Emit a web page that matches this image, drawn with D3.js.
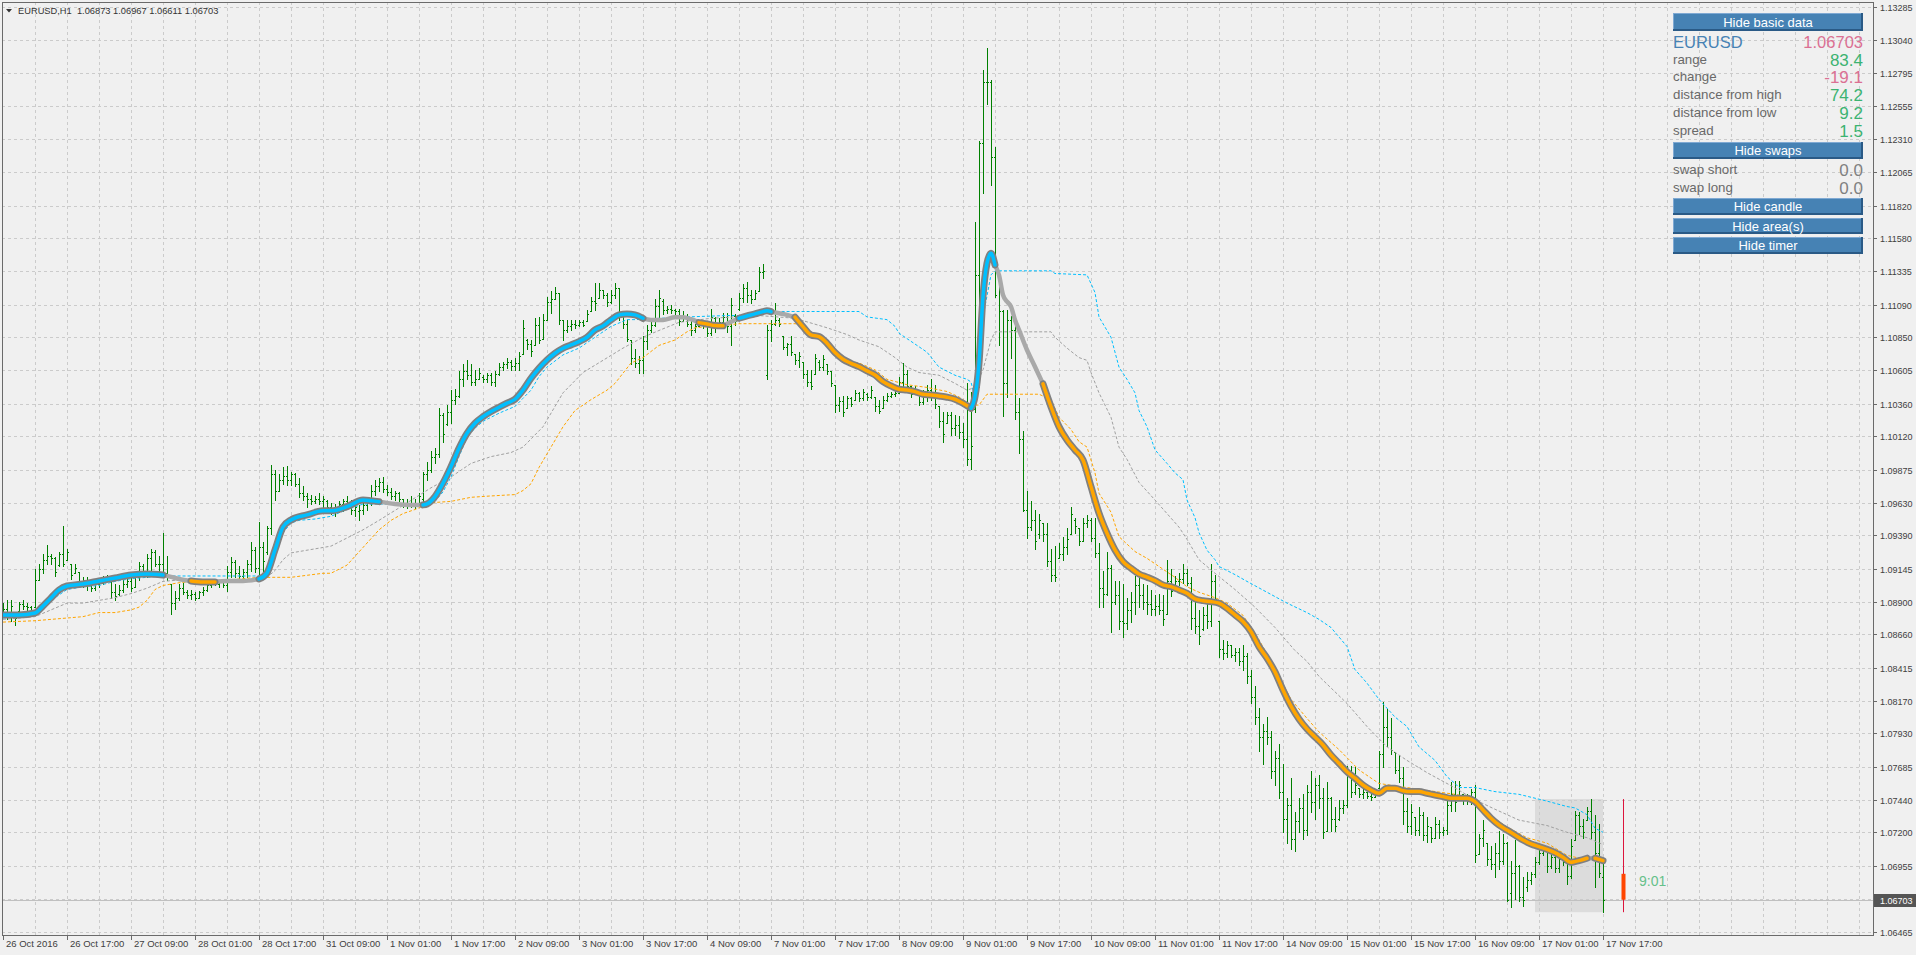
<!DOCTYPE html>
<html><head><meta charset="utf-8">
<script src="https://cdn.jsdelivr.net/npm/d3@7"></script>
<style>html,body{margin:0;padding:0;background:#f0f0f0;overflow:hidden}text{font-family:"Liberation Sans",Arial,sans-serif}</style>
</head><body><svg id="c" width="1916" height="955"></svg>
<script>
// ---------- DATA ----------
const symbolTitle = "EURUSD,H1  1.06873 1.06967 1.06611 1.06703";
const opens = [
1.0881,1.0885,1.0882,1.0880,1.0883,1.0888,1.0887,1.0886,1.0886,1.0906,
1.0914,1.0921,1.0924,1.0922,1.0917,1.0925,1.0921,1.0918,1.0911,1.0912,
1.0905,1.0903,1.0906,1.0900,1.0903,1.0904,1.0907,1.0906,1.0897,1.0896,
1.0899,1.0903,1.0905,1.0901,1.0908,1.0916,1.0913,1.0922,1.0927,1.0918,
1.0918,1.0911,1.0903,1.0889,1.0893,1.0900,1.0897,1.0895,1.0896,1.0893,
1.0897,1.0899,1.0902,1.0904,1.0903,1.0905,1.0902,1.0912,1.0919,1.0911,
1.0909,1.0912,1.0918,1.0928,1.0915,1.0930,1.0927,1.0944,1.0984,1.0972,
1.0980,1.0983,1.0980,1.0984,1.0977,1.0970,1.0968,1.0966,1.0964,1.0966,
1.0964,1.0964,1.0960,1.0958,1.0960,1.0962,1.0964,1.0961,1.0958,1.0957,
1.0958,1.0961,1.0963,1.0972,1.0975,1.0978,1.0973,1.0971,1.0968,1.0970,
1.0966,1.0962,1.0963,1.0961,1.0963,1.0966,1.0984,1.0987,1.0997,1.0999,
1.1028,1.1021,1.1030,1.1039,1.1042,1.1054,1.1060,1.1057,1.1052,1.1054,
1.1056,1.1054,1.1057,1.1052,1.1058,1.1063,1.1065,1.1067,1.1064,1.1066,
1.1073,1.1083,1.1080,1.1079,1.1094,1.1084,1.1098,1.1111,1.1113,1.1118,
1.1098,1.1090,1.1093,1.1095,1.1094,1.1096,1.1097,1.1104,1.1112,1.1114,
1.1120,1.1116,1.1111,1.1116,1.1121,1.1102,1.1095,1.1083,1.1070,1.1066,
1.1068,1.1082,1.1090,1.1094,1.1108,1.1112,1.1105,1.1106,1.1105,1.1104,
1.1097,1.1101,1.1095,1.1090,1.1093,1.1095,1.1094,1.1088,1.1099,1.1094,
1.1096,1.1100,1.1093,1.1101,1.1106,1.1114,1.1121,1.1116,1.1113,1.1119,
1.1133,1.1057,1.1090,1.1095,1.1098,1.1086,1.1078,1.1080,1.1073,1.1068,
1.1067,1.1058,1.1052,1.1058,1.1067,1.1063,1.1065,1.1060,1.1050,1.1035,
1.1038,1.1033,1.1040,1.1039,1.1044,1.1040,1.1043,1.1041,1.1041,1.1034,
1.1033,1.1039,1.1042,1.1043,1.1044,1.1052,1.1058,1.1049,1.1045,1.1044,
1.1037,1.1043,1.1046,1.1041,1.1034,1.1023,1.1022,1.1028,1.1018,1.1020,
1.1015,1.1010,1.0995,1.1032,1.1131,1.1228,1.1273,1.1273,1.1218,1.1134,
1.1104,1.1051,1.1098,1.1090,1.1030,1.1010,1.0958,1.0945,1.0950,1.0940,
1.0948,1.0940,1.0920,1.0910,1.0922,1.0925,1.0930,1.0940,1.0950,1.0944,
1.0935,1.0948,1.0950,1.0937,1.0926,1.0900,1.0896,1.0915,1.0890,1.0895,
1.0876,1.0874,1.0884,1.0890,1.0902,1.0895,1.0890,1.0888,1.0885,1.0887,
1.0884,1.0881,1.0905,1.0902,1.0905,1.0907,1.0911,1.0904,1.0878,1.0872,
1.0870,1.0880,1.0876,1.0905,1.0876,1.0855,1.0852,1.0858,1.0851,1.0853,
1.0846,1.0850,1.0835,1.0820,1.0805,1.0790,1.0795,1.0790,1.0765,1.0775,
1.0750,1.0730,1.0740,1.0715,1.0728,1.0738,1.0722,1.0750,1.0742,1.0755,
1.0745,1.0721,1.0745,1.0730,1.0730,1.0738,1.0740,1.0762,1.0750,1.0753,
1.0748,1.0750,1.0747,1.0746,1.0753,1.0778,1.0798,1.0790,1.0779,1.0766,
1.0760,1.0736,1.0725,1.0731,1.0722,1.0733,1.0718,1.0724,1.0716,1.0726,
1.0720,1.0722,1.0740,1.0748,1.0744,1.0748,1.0744,1.0746,1.0750,1.0704,
1.0716,1.0712,1.0700,1.0697,1.0705,1.0699,1.0712,1.0675,1.0690,1.0695,
1.0672,1.0680,1.0685,1.0689,1.0698,1.0705,1.0707,1.0695,1.0702,1.0694,
1.0700,1.0698,1.0688,1.0714,1.0733,1.0725,1.0729,1.0736,1.0720,1.0705,
1.06873];
const highs = [
1.0889,1.0891,1.0891,1.0881,1.0890,1.0891,1.0889,1.0887,1.0914,1.0918,
1.0925,1.0932,1.0925,1.0923,1.0927,1.0946,1.0929,1.0918,1.0918,1.0912,
1.0908,1.0908,1.0907,1.0906,1.0906,1.0909,1.0910,1.0906,1.0903,1.0902,
1.0906,1.0908,1.0909,1.0911,1.0919,1.0918,1.0925,1.0929,1.0928,1.0924,
1.0941,1.0924,1.0903,1.0898,1.0903,1.0904,1.0899,1.0899,1.0897,1.0898,
1.0901,1.0903,1.0906,1.0906,1.0906,1.0907,1.0916,1.0923,1.0921,1.0916,
1.0914,1.0921,1.0934,1.0930,1.0949,1.0934,1.0946,1.0991,1.0987,1.0984,
1.0989,1.0990,1.0986,1.0985,1.0981,1.0975,1.0970,1.0969,1.0968,1.0970,
1.0968,1.0965,1.0963,1.0962,1.0964,1.0966,1.0968,1.0965,1.0963,1.0961,
1.0963,1.0965,1.0976,1.0980,1.0981,1.0982,1.0976,1.0974,1.0972,1.0971,
1.0966,1.0966,1.0968,1.0966,1.0970,1.0986,1.0993,1.1001,1.1003,1.1033,
1.1029,1.1035,1.1046,1.1047,1.1060,1.1065,1.1068,1.1065,1.1061,1.1062,
1.1057,1.1059,1.1059,1.1060,1.1066,1.1067,1.1070,1.1068,1.1070,1.1074,
1.1098,1.1084,1.1083,1.1099,1.1100,1.1102,1.1115,1.1119,1.1122,1.1118,
1.1098,1.1098,1.1098,1.1098,1.1098,1.1098,1.1105,1.1115,1.1125,1.1125,
1.1120,1.1118,1.1120,1.1125,1.1121,1.1102,1.1098,1.1083,1.1076,1.1071,
1.1086,1.1094,1.1097,1.1113,1.1120,1.1113,1.1108,1.1109,1.1106,1.1106,
1.1104,1.1102,1.1098,1.1095,1.1097,1.1098,1.1095,1.1106,1.1100,1.1099,
1.1103,1.1103,1.1114,1.1102,1.1118,1.1124,1.1126,1.1120,1.1120,1.1137,
1.1139,1.1094,1.1098,1.1110,1.1099,1.1086,1.1081,1.1086,1.1073,1.1074,
1.1067,1.1061,1.1061,1.1073,1.1068,1.1072,1.1065,1.1060,1.1050,1.1041,
1.1042,1.1042,1.1041,1.1046,1.1045,1.1047,1.1044,1.1049,1.1041,1.1039,
1.1042,1.1044,1.1045,1.1046,1.1056,1.1066,1.1061,1.1049,1.1049,1.1044,
1.1046,1.1050,1.1054,1.1050,1.1034,1.1030,1.1030,1.1030,1.1028,1.1027,
1.1022,1.1051,1.1045,1.1170,1.1230,1.1282,1.1298,1.1275,1.1225,1.1134,
1.1105,1.1105,1.1101,1.1095,1.1040,1.1016,1.0972,1.0964,1.0958,1.0955,
1.0948,1.0948,1.0929,1.0931,1.0933,1.0938,1.0944,1.0960,1.0952,1.0944,
1.0952,1.0954,1.0952,1.0952,1.0933,1.0913,1.0927,1.0917,1.0905,1.0905,
1.0903,1.0893,1.0897,1.0909,1.0909,1.0903,1.0902,1.0899,1.0895,1.0896,
1.0895,1.0921,1.0914,1.0909,1.0911,1.0918,1.0914,1.0908,1.0891,1.0884,
1.0886,1.0893,1.0918,1.0910,1.0876,1.0862,1.0861,1.0858,1.0856,1.0856,
1.0858,1.0852,1.0840,1.0828,1.0812,1.0800,1.0805,1.0795,1.0780,1.0785,
1.0770,1.0745,1.0760,1.0735,1.0745,1.0748,1.0755,1.0765,1.0760,1.0762,
1.0753,1.0757,1.0746,1.0739,1.0744,1.0744,1.0769,1.0769,1.0768,1.0753,
1.0752,1.0750,1.0748,1.0750,1.0780,1.0816,1.0811,1.0804,1.0779,1.0777,
1.0768,1.0745,1.0741,1.0731,1.0739,1.0735,1.0731,1.0724,1.0731,1.0729,
1.0724,1.0745,1.0757,1.0758,1.0758,1.0748,1.0748,1.0752,1.0755,1.0719,
1.0729,1.0712,1.0710,1.0712,1.0721,1.0719,1.0713,1.0699,1.0714,1.0696,
1.0687,1.0691,1.0691,1.0702,1.0709,1.0709,1.0708,1.0707,1.0704,1.0705,
1.0703,1.0699,1.0715,1.0736,1.0735,1.0730,1.0739,1.07445,1.0733,1.0726,
1.06967];
const lows = [
1.0879,1.0877,1.0876,1.0873,1.0882,1.0885,1.0884,1.0882,1.0886,1.0906,
1.0911,1.0918,1.0918,1.0909,1.0916,1.0916,1.0921,1.0907,1.0911,1.0903,
1.0901,1.0899,1.0898,1.0899,1.0901,1.0903,1.0906,1.0893,1.0891,1.0895,
1.0897,1.0901,1.0898,1.0901,1.0906,1.0911,1.0908,1.0912,1.0916,1.0913,
1.0909,1.0906,1.0881,1.0885,1.0891,1.0896,1.0893,1.0892,1.0891,1.0893,
1.0895,1.0898,1.0901,1.0902,1.0901,1.0901,1.0898,1.0908,1.0908,1.0906,
1.0905,1.0908,1.0913,1.0912,1.0906,1.0913,1.0925,1.0940,1.0965,1.0972,
1.0977,1.0976,1.0976,1.0975,1.0967,1.0965,1.0960,1.0962,1.0963,1.0962,
1.0959,1.0957,1.0955,1.0953,1.0956,1.0957,1.0959,1.0955,1.0953,1.0950,
1.0955,1.0958,1.0961,1.0969,1.0972,1.0971,1.0969,1.0966,1.0965,1.0964,
1.0960,1.0959,1.0960,1.0959,1.0963,1.0960,1.0980,1.0986,1.0992,1.0997,
1.1008,1.1020,1.1022,1.1036,1.1041,1.1049,1.1054,1.1050,1.1050,1.1054,
1.1052,1.1052,1.1050,1.1049,1.1057,1.1061,1.1062,1.1061,1.1061,1.1061,
1.1073,1.1076,1.1071,1.1079,1.1081,1.1084,1.1098,1.1103,1.1113,1.1095,
1.1083,1.1089,1.1090,1.1092,1.1093,1.1093,1.1097,1.1104,1.1105,1.1114,
1.1114,1.1108,1.1110,1.1114,1.1098,1.1092,1.1082,1.1065,1.1063,1.1059,
1.1059,1.1076,1.1089,1.1093,1.1100,1.1102,1.1103,1.1103,1.1102,1.1094,
1.1097,1.1093,1.1087,1.1089,1.1093,1.1092,1.1086,1.1087,1.1089,1.1093,
1.1093,1.1089,1.1079,1.1094,1.1105,1.1111,1.1111,1.1110,1.1113,1.1119,
1.1129,1.1054,1.1082,1.1094,1.1093,1.1076,1.1072,1.1072,1.1065,1.1063,
1.1055,1.1049,1.1047,1.1058,1.1061,1.1061,1.1058,1.1049,1.1030,1.1031,
1.1027,1.1033,1.1034,1.1039,1.1038,1.1039,1.1039,1.1040,1.1031,1.1029,
1.1033,1.1038,1.1041,1.1042,1.1044,1.1047,1.1046,1.1041,1.1044,1.1035,
1.1036,1.1038,1.1039,1.1033,1.1019,1.1008,1.1022,1.1013,1.1013,1.1011,
1.1004,1.0991,1.0988,1.1030,1.1048,1.1191,1.1257,1.1197,1.1115,1.1079,
1.1027,1.1041,1.1070,1.1025,1.1000,1.0957,1.0937,1.0943,1.0929,1.0937,
1.0935,1.0916,1.0905,1.0905,1.0922,1.0921,1.0925,1.0940,1.0941,1.0932,
1.0935,1.0945,1.0935,1.0923,1.0886,1.0886,1.0895,1.0868,1.0888,1.0870,
1.0864,1.0870,1.0875,1.0881,1.0886,1.0885,1.0881,1.0880,1.0880,1.0881,
1.0873,1.0881,1.0894,1.0902,1.0902,1.0904,1.0902,1.0870,1.0867,1.0859,
1.0869,1.0871,1.0872,1.0888,1.0849,1.0848,1.0849,1.0849,1.0846,1.0843,
1.0840,1.0830,1.0815,1.0800,1.0780,1.0770,1.0785,1.0760,1.0755,1.0745,
1.0720,1.0712,1.0708,1.0706,1.0720,1.0715,1.0718,1.0735,1.0730,1.0738,
1.0716,1.0721,1.0721,1.0721,1.0729,1.0734,1.0739,1.0746,1.0748,1.0746,
1.0745,1.0745,1.0744,1.0746,1.0753,1.0768,1.0784,1.0778,1.0764,1.0757,
1.0726,1.0720,1.0719,1.0718,1.0718,1.0714,1.0713,1.0713,1.0716,1.0716,
1.0718,1.0719,1.0736,1.0736,1.0744,1.0741,1.0741,1.0741,1.0698,1.0704,
1.0710,1.0696,1.0693,1.0687,1.0693,1.0697,1.0669,1.0665,1.0671,1.0669,
1.0666,1.0677,1.0682,1.0687,1.0697,1.0703,1.0691,1.0694,1.0691,1.0691,
1.0696,1.0682,1.0686,1.0714,1.0719,1.0716,1.0729,1.0716,1.0680,1.0687,
1.06611];
const closes = [
1.0885,1.0882,1.0887,1.0878,1.0888,1.0887,1.0886,1.0884,1.0906,1.0914,
1.0921,1.0924,1.0922,1.0912,1.0925,1.0918,1.0927,1.0910,1.0915,1.0905,
1.0903,1.0906,1.0900,1.0903,1.0904,1.0907,1.0908,1.0897,1.0894,1.0899,
1.0903,1.0905,1.0900,1.0908,1.0916,1.0913,1.0922,1.0927,1.0918,1.0918,
1.0911,1.0908,1.0889,1.0893,1.0900,1.0897,1.0895,1.0896,1.0893,1.0897,
1.0899,1.0902,1.0904,1.0903,1.0905,1.0902,1.0912,1.0919,1.0911,1.0909,
1.0912,1.0918,1.0928,1.0915,1.0930,1.0920,1.0944,1.0984,1.0972,1.0980,
1.0983,1.0980,1.0984,1.0977,1.0970,1.0968,1.0966,1.0964,1.0966,1.0964,
1.0966,1.0960,1.0958,1.0960,1.0962,1.0964,1.0961,1.0958,1.0960,1.0958,
1.0961,1.0963,1.0972,1.0975,1.0978,1.0973,1.0971,1.0968,1.0970,1.0966,
1.0962,1.0963,1.0961,1.0962,1.0968,1.0984,1.0987,1.0997,1.0999,1.1028,
1.1014,1.1030,1.1039,1.1042,1.1054,1.1060,1.1057,1.1052,1.1054,1.1059,
1.1054,1.1057,1.1052,1.1058,1.1063,1.1065,1.1067,1.1064,1.1066,1.1071,
1.1092,1.1080,1.1075,1.1094,1.1083,1.1098,1.1111,1.1113,1.1118,1.1098,
1.1090,1.1093,1.1095,1.1094,1.1096,1.1094,1.1102,1.1112,1.1110,1.1120,
1.1116,1.1111,1.1116,1.1121,1.1102,1.1095,1.1084,1.1070,1.1066,1.1068,
1.1082,1.1090,1.1094,1.1108,1.1114,1.1105,1.1106,1.1105,1.1104,1.1097,
1.1101,1.1095,1.1090,1.1093,1.1095,1.1094,1.1088,1.1100,1.1092,1.1096,
1.1100,1.1093,1.1109,1.1097,1.1114,1.1121,1.1116,1.1113,1.1118,1.1133,
1.1134,1.1090,1.1095,1.1098,1.1095,1.1078,1.1080,1.1074,1.1068,1.1071,
1.1058,1.1052,1.1049,1.1070,1.1063,1.1069,1.1060,1.1051,1.1035,1.1038,
1.1030,1.1040,1.1036,1.1044,1.1040,1.1045,1.1041,1.1046,1.1034,1.1031,
1.1039,1.1042,1.1043,1.1044,1.1052,1.1058,1.1049,1.1043,1.1047,1.1037,
1.1043,1.1046,1.1041,1.1036,1.1023,1.1014,1.1028,1.1018,1.1020,1.1015,
1.1010,1.0995,1.1005,1.1131,1.1228,1.1273,1.1273,1.1218,1.1116,1.1104,
1.1051,1.1098,1.1090,1.1030,1.1010,1.0958,1.0945,1.0950,1.0935,1.0950,
1.0940,1.0920,1.0910,1.0908,1.0925,1.0930,1.0936,1.0955,1.0946,1.0935,
1.0948,1.0950,1.0937,1.0926,1.0900,1.0896,1.0915,1.0890,1.0895,1.0876,
1.0874,1.0884,1.0890,1.0902,1.0895,1.0890,1.0888,1.0885,1.0887,1.0884,
1.0877,1.0905,1.0898,1.0905,1.0907,1.0911,1.0904,1.0878,1.0872,1.0865,
1.0880,1.0876,1.0905,1.0892,1.0855,1.0852,1.0858,1.0851,1.0853,1.0846,
1.0850,1.0835,1.0820,1.0805,1.0790,1.0795,1.0790,1.0765,1.0775,1.0750,
1.0730,1.0740,1.0715,1.0728,1.0738,1.0722,1.0750,1.0742,1.0755,1.0745,
1.0720,1.0745,1.0730,1.0725,1.0738,1.0740,1.0762,1.0750,1.0755,1.0748,
1.0750,1.0747,1.0746,1.0748,1.0778,1.0798,1.0790,1.0781,1.0766,1.0760,
1.0736,1.0725,1.0735,1.0722,1.0733,1.0718,1.0725,1.0716,1.0726,1.0720,
1.0722,1.0740,1.0748,1.0742,1.0755,1.0744,1.0746,1.0750,1.0703,1.0716,
1.0722,1.0700,1.0697,1.0705,1.0699,1.0712,1.0670,1.0690,1.0695,1.0672,
1.0670,1.0685,1.0689,1.0698,1.0705,1.0707,1.0695,1.0702,1.0694,1.0700,
1.0698,1.0688,1.0710,1.0733,1.0725,1.0720,1.0736,1.0720,1.0705,1.0690,
1.06703];

// smoothed moving average [bar, price]
const maPoints = [
[0,1.08803],[4,1.08803],[8,1.08817],[10,1.08869],[12,1.08928],[14,1.08987],[16,1.09016],[20,1.09031],[24,1.09053],[28,1.09075],
[32,1.09097],[36,1.09105],[40,1.09097],[42,1.09083],[44,1.09068],[47,1.09053],[50,1.09046],[53,1.09046],[56,1.09053],[60,1.09053],
[64,1.09068],[66,1.09112],[68,1.09282],[70,1.09451],[72,1.09503],[76,1.09540],[80,1.09570],[82,1.09570],[86,1.09601],[90,1.09650],
[92,1.09645],[94,1.09638],[98,1.09621],[102,1.09614],[105,1.09614],[106,1.09621],[108,1.09675],[110,1.09774],[112,1.09896],[114,1.10032],
[116,1.10142],[118,1.10216],[120,1.10265],[122,1.10302],[124,1.10334],[126,1.10364],[128,1.10393],[130,1.10461],[132,1.10548],[134,1.10621],
[136,1.10682],[138,1.10732],[140,1.10769],[142,1.10793],[144,1.10818],[146,1.10850],[148,1.10904],[150,1.10934],[152,1.10978],[154,1.11015],
[156,1.11022],[158,1.11015],[160,1.10990],[162,1.10978],[165,1.10978],[168,1.10998],[170,1.10998],[172,1.10983],[174,1.10958],[176,1.10948],
[178,1.10936],[180,1.10934],[182,1.10965],[184,1.10990],[186,1.11007],[188,1.11022],[190,1.11039],[191,1.11046],[192,1.11039],[194,1.11027],
[196,1.11015],[198,1.10998],[200,1.10928],[202,1.10867],[204,1.10855],[206,1.10806],[208,1.10737],[210,1.10688],[212,1.10658],[214,1.10633],
[216,1.10602],[218,1.10572],[220,1.10523],[222,1.10491],[224,1.10467],[226,1.10461],[228,1.10449],[230,1.10430],[232,1.10425],[234,1.10417],
[236,1.10408],[238,1.10393],[240,1.10363],[242,1.10327],[243,1.10413],[244,1.10658],[245,1.11150],[246,1.11396],[247,1.11469],[248,1.11383],
[249,1.11309],[250,1.11162],[251,1.11113],[252,1.11076],[253,1.10978],[254,1.10904],[256,1.10756],[258,1.10633],[260,1.10506],[262,1.10338],
[264,1.10191],[266,1.10093],[268,1.10019],[270,1.09945],[272,1.09749],[274,1.09553],[276,1.09405],[278,1.09282],[280,1.09196],[282,1.09147],
[284,1.09105],[286,1.09081],[288,1.09056],[290,1.09024],[292,1.09011],[294,1.08987],[296,1.08962],[298,1.08921],[300,1.08908],[302,1.08901],
[304,1.08889],[306,1.08852],[308,1.08803],[310,1.08754],[312,1.08680],[314,1.08569],[316,1.08484],[318,1.08383],[320,1.08249],[322,1.08131],
[324,1.08036],[326,1.07962],[328,1.07903],[330,1.07844],[332,1.07770],[334,1.07709],[336,1.07647],[338,1.07599],[340,1.07549],[342,1.07512],
[344,1.07488],[346,1.07525],[348,1.07525],[350,1.07507],[352,1.07500],[354,1.07500],[356,1.07488],[358,1.07475],[360,1.07463],[362,1.07451],
[364,1.07451],[366,1.07451],[368,1.07426],[370,1.07365],[372,1.07304],[374,1.07254],[376,1.07217],[378,1.07180],[380,1.07143],[382,1.07114],
[384,1.07094],[386,1.07075],[388,1.07050],[390,1.07016],[392,1.06979],[393,1.06984],[394,1.06991],[396,1.07009],[398,1.07009],[400,1.06991]];
// slope state of the moving average: [fromBar, toBar, state]
const maStates = [[0,40,"up"],[40,47,"flat"],[47,53,"down"],[53,64,"flat"],[64,94,"up"],[94,105,"flat"],[105,160,"up"],
[160,174,"flat"],[174,180,"down"],[180,184,"flat"],[184,192,"up"],[192,198,"flat"],[198,242,"down"],[242,248,"up"],
[248,260,"flat"],[260,396,"down"],[396,398,"flat"],[398,400,"down"]];

// dotted channel lines [bar, price]
const upperDots = [[0,1.0878],[8,1.0880],[12,1.0891],[16,1.0899],[20,1.0901],[24,1.0902],[28,1.0905],[32,1.0907],[36,1.0908],[40,1.0909],
[64,1.0909],[66,1.0909],[68,1.0926],[70,1.0941],[72,1.0948],[74,1.0950],[78,1.0951],[82,1.0953],[86,1.0958],[90,1.0962],[105,1.0962],
[108,1.0964],[110,1.0971],[112,1.0982],[114,1.0997],[116,1.1011],[118,1.1018],[120,1.1023],[124,1.1029],[128,1.1034],[130,1.1040],
[132,1.1046],[134,1.1056],[136,1.1063],[140,1.1072],[144,1.1077],[148,1.1085],[152,1.1093],[156,1.1098],[158,1.1098],[171,1.1100],
[181,1.1101],[184,1.1101],[188,1.1102],[192,1.1104],[214,1.1104],[216,1.1100],[221,1.1098],[223,1.1093],[224,1.1088],[228,1.1080],
[231,1.1074],[234,1.1063],[238,1.1057],[241,1.1054],[242,1.1052],[243,1.1040],[245,1.1100],[247,1.1131],[248,1.1134],[262,1.1134],
[263,1.1132],[271,1.1131],[273,1.1118],[274,1.1100],[277,1.1085],[279,1.1063],[281,1.1054],[283,1.1044],[284,1.1031],[286,1.1019],
[288,1.1002],[291,1.0992],[293,1.0985],[295,1.0980],[296,1.0965],[298,1.0952],[299,1.0941],[301,1.0928],[303,1.0921],[304,1.0916],
[308,1.0910],[311,1.0905],[316,1.0897],[321,1.0889],[326,1.0882],[329,1.0877],[332,1.0871],[334,1.0864],[336,1.0857],[338,1.0840],
[341,1.0830],[344,1.0818],[348,1.0805],[351,1.0798],[354,1.0783],[358,1.0773],[361,1.0761],[363,1.0756],[364,1.0753],[368,1.0753],
[373,1.0750],[379,1.0748],[386,1.0743],[391,1.0739],[393,1.0738],[396,1.0733],[398,1.0723],[400,1.0720]];
const middleDots = [[0,1.0877],[8,1.0879],[12,1.0884],[16,1.0889],[20,1.0889],[24,1.0891],[28,1.0893],[32,1.0896],[36,1.0900],[40,1.0905],
[44,1.0906],[64,1.0906],[66,1.0908],[68,1.0913],[70,1.0921],[72,1.0926],[76,1.0928],[80,1.0930],[82,1.0931],[86,1.0937],[90,1.0943],
[94,1.0950],[100,1.0961],[107,1.0974],[112,1.0982],[117,1.0992],[122,1.0997],[127,1.1000],[130,1.1004],[135,1.1019],[140,1.1044],
[145,1.1059],[150,1.1068],[155,1.1077],[160,1.1085],[164,1.1090],[169,1.1096],[177,1.1099],[189,1.1101],[198,1.1099],[206,1.1092],
[211,1.1087],[214,1.1083],[219,1.1078],[223,1.1070],[226,1.1063],[229,1.1059],[234,1.1057],[238,1.1051],[241,1.1046],[243,1.1048],
[245,1.1061],[247,1.1083],[248,1.1089],[262,1.1089],[263,1.1085],[266,1.1077],[269,1.1070],[271,1.1068],[272,1.1059],[274,1.1044],
[277,1.1026],[279,1.1004],[281,1.0995],[284,1.0978],[288,1.0965],[291,1.0955],[294,1.0945],[296,1.0936],[299,1.0921],[303,1.0911],
[308,1.0899],[313,1.0886],[318,1.0871],[323,1.0854],[326,1.0846],[329,1.0835],[336,1.0815],[341,1.0798],[346,1.0783],[351,1.0773],
[356,1.0764],[361,1.0756],[364,1.0751],[368,1.0744],[373,1.0737],[379,1.0729],[386,1.0725],[391,1.0720],[396,1.0716],[400,1.0711]];
const lowerDots = [[0,1.0875],[8,1.0876],[16,1.0878],[20,1.0879],[24,1.0882],[28,1.0882],[32,1.0884],[34,1.0886],[36,1.0891],[38,1.0899],
[40,1.0902],[44,1.0904],[48,1.0905],[56,1.0906],[64,1.0908],[72,1.0908],[80,1.0911],[82,1.0911],[86,1.0917],[90,1.0930],[94,1.0943],
[97,1.0950],[100,1.0955],[103,1.0958],[107,1.0963],[112,1.0964],[117,1.0967],[122,1.0968],[128,1.0969],[130,1.0972],[132,1.0977],
[134,1.0989],[137,1.1004],[140,1.1019],[143,1.1031],[147,1.1039],[151,1.1046],[153,1.1051],[157,1.1066],[160,1.1070],[164,1.1079],
[168,1.1083],[171,1.1089],[173,1.1092],[181,1.1094],[184,1.1095],[198,1.1095],[200,1.1094],[209,1.1072],[211,1.1067],[214,1.1066],
[218,1.1061],[221,1.1054],[226,1.1050],[231,1.1048],[236,1.1045],[239,1.1041],[242,1.1035],[244,1.1035],[246,1.1043],[259,1.1043],
[262,1.1039],[264,1.1026],[267,1.1017],[269,1.1008],[271,1.1004],[273,1.0985],[274,1.0970],[277,1.0956],[279,1.0938],[283,1.0927],
[286,1.0922],[289,1.0916],[293,1.0908],[296,1.0901],[299,1.0897],[303,1.0893],[306,1.0889],[310,1.0880],[314,1.0862],[318,1.0841],
[322,1.0818],[326,1.0804],[329,1.0794],[334,1.0781],[339,1.0766],[344,1.0756],[351,1.0753],[363,1.0748],[368,1.0745],[371,1.0734],
[376,1.0724],[381,1.0716],[386,1.0712],[391,1.0703],[394,1.0701],[399,1.0700]];

const xTickLabels = ["26 Oct 2016","26 Oct 17:00","27 Oct 09:00","28 Oct 01:00","28 Oct 17:00","31 Oct 09:00","1 Nov 01:00",
"1 Nov 17:00","2 Nov 09:00","3 Nov 01:00","3 Nov 17:00","4 Nov 09:00","7 Nov 01:00","7 Nov 17:00","8 Nov 09:00","9 Nov 01:00",
"9 Nov 17:00","10 Nov 09:00","11 Nov 01:00","11 Nov 17:00","14 Nov 09:00","15 Nov 01:00","15 Nov 17:00","16 Nov 09:00",
"17 Nov 01:00","17 Nov 17:00"];
const yTickLabels = ["1.13285","1.13040","1.12795","1.12555","1.12310","1.12065","1.11820","1.11580","1.11335","1.11090",
"1.10850","1.10605","1.10360","1.10120","1.09875","1.09630","1.09390","1.09145","1.08900","1.08660","1.08415","1.08170",
"1.07930","1.07685","1.07440","1.07200","1.06955","1.06710","1.06465"];
const currentPrice = 1.06703;
const dayOHLC = [1.06894, 1.07445, 1.06611, 1.06703];
const dayStartBar = 383;
const timerText = "9:01";
const infoSymbol = "EURUSD";
const infoLabels = ["range","change","distance from high","distance from low","spread"];
const infoValues = ["83.4","-19.1","74.2","9.2","1.5"];
const swapLabels = ["swap short","swap long"];
const swapValues = ["0.0","0.0"];
const buttonLabels = ["Hide basic data","Hide swaps","Hide candle","Hide area(s)","Hide timer"];

// ---------- DRAW ----------
const svg = d3.select("#c");
const x = d3.scaleLinear().domain([0,400]).range([3,1603]);
const y = d3.scaleLinear().domain([1.06465,1.13285]).range([932,7]);
const px = v => Math.round(v) + 0.5;
const L = 2, R = 1873, T = 2, B = 935;

svg.append("rect").attr("width",1916).attr("height",955).attr("fill","#f0f0f0");
svg.append("defs").append("clipPath").attr("id","plot").append("rect")
  .attr("x",L).attr("y",T).attr("width",R-L).attr("height",B-T);
const plot = svg.append("g").attr("clip-path","url(#plot)");

// day area box
plot.append("rect").attr("x",x(dayStartBar)).attr("width",x(400)-x(dayStartBar))
  .attr("y",y(dayOHLC[1])).attr("height",y(dayOHLC[2])-y(dayOHLC[1])).attr("fill","#dcdcdc");

// grid
const grid = plot.append("g").attr("stroke","#cbcbcb").attr("stroke-width",1).attr("stroke-dasharray","3,3");
yTickLabels.forEach(v => { const yy = px(y(+v)); grid.append("line").attr("x1",L).attr("x2",R).attr("y1",yy).attr("y2",yy); });
d3.range(8, 465, 8).forEach(b => { const xx = px(x(b)); grid.append("line").attr("x1",xx).attr("x2",xx).attr("y1",T).attr("y2",B); });

// current price line
plot.append("line").attr("x1",L).attr("x2",R).attr("y1",px(y(currentPrice))).attr("y2",px(y(currentPrice)))
  .attr("stroke","#c0c0c0").attr("stroke-width",1);

// OHLC bars
const bars = plot.append("g").attr("stroke","#008000").attr("stroke-width",1).attr("shape-rendering","crispEdges");
opens.forEach((o,i) => {
  const xc = Math.round(x(i)) + 0.5;
  bars.append("line").attr("x1",xc).attr("x2",xc).attr("y1",Math.round(y(highs[i]))).attr("y2",Math.round(y(lows[i]))+1);
  const yo = Math.round(y(o)) + 0.5, yc = Math.round(y(closes[i])) + 0.5;
  bars.append("line").attr("x1",xc-1.5).attr("x2",xc).attr("y1",yo).attr("y2",yo);
  bars.append("line").attr("x1",xc).attr("x2",xc+1.5).attr("y1",yc).attr("y2",yc);
});

// dotted lines
const lineGen = d3.line().x(d => x(d[0])).y(d => y(d[1]));
[[middleDots,"#a0a0a0"],[lowerDots,"#ffa500"],[upperDots,"#00bfff"]].forEach(([data,col]) => {
  plot.append("path").attr("d",lineGen(data)).attr("fill","none").attr("stroke",col)
    .attr("stroke-width",1).attr("stroke-dasharray","3,2");
});

// moving average
const maLine = d3.line().x(d => x(d[0])).y(d => y(d[1])).curve(d3.curveMonotoneX);
const maG = plot.append("g").attr("fill","none").attr("stroke-linejoin","round");
maStates.filter(s => s[2]==="flat").forEach(([a,b]) => {
  const pts = maPoints.filter(p => p[0]>=a && p[0]<=b);
  maG.append("path").attr("d",maLine(pts)).attr("stroke","#a9a9a9").attr("stroke-width",4.5).attr("stroke-linecap","round");
});
maStates.filter(s => s[2]!=="flat").forEach(([a,b,s]) => {
  const pts = maPoints.filter(p => p[0]>=a && p[0]<=b);
  maG.append("path").attr("d",maLine(pts)).attr("stroke","#808080").attr("stroke-width",7).attr("stroke-linecap","round");
  maG.append("path").attr("d",maLine(pts)).attr("stroke", s==="up" ? "#00bfff" : "#ffa500").attr("stroke-width",3.5).attr("stroke-linecap","round");
});

// big day candle
const cx = x(405);
plot.append("line").attr("x1",px(cx)).attr("x2",px(cx)).attr("y1",y(dayOHLC[1])).attr("y2",y(dayOHLC[2]))
  .attr("stroke","#dc143c").attr("stroke-width",1);
plot.append("rect").attr("x",cx-1.5).attr("width",4).attr("y",y(dayOHLC[0])).attr("height",y(dayOHLC[3])-y(dayOHLC[0]))
  .attr("fill","#ff4500");
plot.append("text").attr("x",cx+16).attr("y",y(currentPrice)-14).attr("font-size",14).attr("fill","#66c08a").text(timerText);

// frame
svg.append("rect").attr("x",L+0.5).attr("y",T+0.5).attr("width",R-L).attr("height",B-T)
  .attr("fill","none").attr("stroke","#6a6a6a").attr("stroke-width",1);

// right axis
const ra = svg.append("g");
yTickLabels.forEach(v => {
  const yy = px(y(+v));
  if (Math.abs(y(+v) - y(currentPrice)) < 8) return;
  ra.append("line").attr("x1",R).attr("x2",R+4).attr("y1",yy).attr("y2",yy).attr("stroke","#6a6a6a");
  ra.append("text").attr("x",R+7).attr("y",yy+3.2).attr("font-size",9).attr("fill","#404040").text(v);
});
const cy = px(y(currentPrice));
ra.append("rect").attr("x",R+1).attr("y",cy-6.5).attr("width",1916-R-1).attr("height",13).attr("fill","#555555");
ra.append("text").attr("x",R+7).attr("y",cy+3.2).attr("font-size",9).attr("fill","#ffffff").text(currentPrice.toFixed(5));

// bottom axis
const ba = svg.append("g");
xTickLabels.forEach((t,i) => {
  const xx = px(x(i*16));
  ba.append("line").attr("x1",xx).attr("x2",xx).attr("y1",B).attr("y2",B+5).attr("stroke","#6a6a6a");
  ba.append("text").attr("x",xx+2.5).attr("y",B+12).attr("font-size",9.5).attr("fill","#404040").text(t);
});

// title
svg.append("path").attr("d","M6,9 L12,9 L9,12.5 Z").attr("fill","#333");
svg.append("text").attr("x",18).attr("y",14).attr("font-size",9.3).attr("fill","#333")
  .style("white-space","pre").attr("xml:space","preserve").text(symbolTitle);

// info panel
const pX0 = 1673, pX1 = 1863;
const panel = svg.append("g");
function button(label, y0, y1) {
  panel.append("rect").attr("x",pX0).attr("y",y0).attr("width",pX1-pX0).attr("height",y1-y0).attr("fill","#4682b4");
  panel.append("line").attr("x1",pX0).attr("x2",pX1).attr("y1",y0+0.5).attr("y2",y0+0.5).attr("stroke","#7fa9d3");
  panel.append("line").attr("x1",pX0+0.5).attr("x2",pX0+0.5).attr("y1",y0).attr("y2",y1).attr("stroke","#7fa9d3");
  panel.append("line").attr("x1",pX0).attr("x2",pX1).attr("y1",y1-1).attr("y2",y1-1).attr("stroke","#2a5a86").attr("stroke-width",2);
  panel.append("line").attr("x1",pX1-1).attr("x2",pX1-1).attr("y1",y0).attr("y2",y1).attr("stroke","#2a5a86").attr("stroke-width",2);
  panel.append("text").attr("x",(pX0+pX1)/2).attr("y",y0+(y1-y0)/2+4.5).attr("text-anchor","middle")
    .attr("font-size",13).attr("fill","#ffffff").text(label);
}
button(buttonLabels[0], 13, 31);
panel.append("text").attr("x",pX0).attr("y",48).attr("font-size",16.5).attr("fill","#4682b4").text(infoSymbol);
panel.append("text").attr("x",pX1).attr("y",48).attr("font-size",16.5).attr("fill","#db7093").attr("text-anchor","end").text(currentPrice.toFixed(5));
const valColors = ["#3cb371","#db7093","#3cb371","#3cb371","#3cb371"];
infoLabels.forEach((t,i) => {
  const by = 63.5 + i*17.9;
  panel.append("text").attr("x",pX0).attr("y",by).attr("font-size",13.3).attr("fill","#696969").text(t);
  panel.append("text").attr("x",pX1).attr("y",by+2).attr("font-size",17).attr("fill",valColors[i]).attr("text-anchor","end").text(infoValues[i]);
});
button(buttonLabels[1], 142, 159);
swapLabels.forEach((t,i) => {
  const by = 174 + i*17.7;
  panel.append("text").attr("x",pX0).attr("y",by).attr("font-size",13.3).attr("fill","#696969").text(t);
  panel.append("text").attr("x",pX1).attr("y",by+2).attr("font-size",17).attr("fill","#808080").attr("text-anchor","end").text(swapValues[i]);
});
button(buttonLabels[2], 198, 215);
button(buttonLabels[3], 218, 234);
button(buttonLabels[4], 237, 254);
</script>
</body></html>
